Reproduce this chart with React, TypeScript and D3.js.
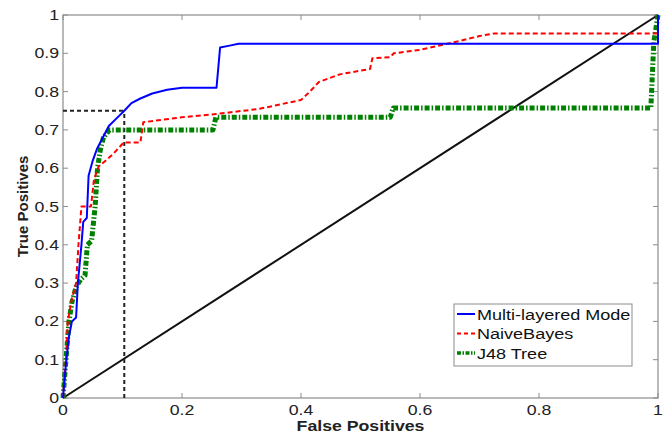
import React from 'react';
import * as d3 from 'd3';

// ROC points, [false positive rate, true positive rate]
const multiLayered: [number, number][] = [
  [0, 0], [0.005, 0.09], [0.01, 0.16], [0.015, 0.2], [0.022, 0.21], [0.025, 0.3],
  [0.031, 0.4], [0.034, 0.46], [0.04, 0.47], [0.043, 0.58], [0.05, 0.62], [0.057, 0.65],
  [0.067, 0.68], [0.077, 0.71], [0.09, 0.73], [0.103, 0.75], [0.115, 0.77], [0.13, 0.782],
  [0.15, 0.795], [0.175, 0.805], [0.2, 0.81], [0.258, 0.81], [0.264, 0.915], [0.28, 0.92],
  [0.295, 0.925], [1.0, 0.925], [1.0, 1.0]
];

const naiveBayes: [number, number][] = [
  [0, 0], [0.005, 0.1], [0.008, 0.2], [0.015, 0.26], [0.022, 0.3], [0.026, 0.4],
  [0.031, 0.5], [0.047, 0.5], [0.052, 0.57], [0.06, 0.605], [0.072, 0.62], [0.086, 0.64],
  [0.102, 0.667], [0.13, 0.667], [0.135, 0.72], [0.2, 0.733], [0.26, 0.742], [0.33, 0.755],
  [0.4, 0.778], [0.415, 0.8], [0.43, 0.825], [0.465, 0.845], [0.516, 0.859], [0.52, 0.887],
  [0.55, 0.89], [0.556, 0.9], [0.6, 0.909], [0.655, 0.928], [0.7, 0.945], [0.725, 0.952],
  [1.0, 0.952], [1.0, 1.0]
];

const j48Tree: [number, number][] = [
  [0, 0], [0.005, 0.1], [0.01, 0.2], [0.015, 0.25], [0.022, 0.29], [0.03, 0.31],
  [0.037, 0.32], [0.041, 0.4], [0.048, 0.41], [0.054, 0.5], [0.058, 0.6], [0.063, 0.65],
  [0.068, 0.68], [0.078, 0.7], [0.252, 0.7], [0.257, 0.733], [0.55, 0.733], [0.555, 0.757],
  [0.988, 0.757], [0.993, 0.93], [1.0, 1.0]
];

const chance: [number, number][] = [[0, 0], [1, 1]];
const cutoff = { fp: 0.103, tp: 0.75 };

const xTicks = [0, 0.2, 0.4, 0.6, 0.8, 1];
const yTicks = [0, 0.1, 0.2, 0.3, 0.4, 0.5, 0.6, 0.7, 0.8, 0.9, 1];
const legendLabels = ['Multi-layered Model', 'NaiveBayes', 'J48 Tree'];

const font = '"Liberation Sans", Arial, Helvetica, sans-serif';
const axisColor = '#8c8c8c';

const App = () => {
  const width = 666;
  const height = 434;
  const margin = { top: 15, right: 8, bottom: 36, left: 63 };
  const innerW = width - margin.left - margin.right;
  const innerH = height - margin.top - margin.bottom;

  const x = d3.scaleLinear().domain([0, 1]).range([0, innerW]);
  const y = d3.scaleLinear().domain([0, 1]).range([innerH, 0]);
  const line = d3.line<[number, number]>().x(d => x(d[0])).y(d => y(d[1]));

  const series = [
    { data: multiLayered, color: '#0000ff', width: 2, dash: null },
    { data: naiveBayes, color: '#ff0000', width: 2, dash: '5,3' },
    { data: j48Tree, color: '#008000', width: 5, dash: '5,2,1.5,2' }
  ];

  const stretch = 1.18;
  const tick = 5;

  return (
    <svg width={width} height={height} style={{ position: 'absolute', left: 0, top: 0, display: 'block', background: '#fff' }}>
      <defs>
        <clipPath id="legendClip">
          <rect x={0} y={0} width={177} height={62} />
        </clipPath>
      </defs>
      <g transform={`translate(${margin.left},${margin.top})`}>
        {/* box */}
        <rect x={0} y={0} width={innerW} height={innerH} fill="none" stroke={axisColor} strokeWidth={1.2} />
        {/* ticks, inside on all four sides */}
        {xTicks.map(t => (
          <g key={'xt' + t}>
            <line x1={x(t)} x2={x(t)} y1={innerH} y2={innerH - tick} stroke={axisColor} />
            <line x1={x(t)} x2={x(t)} y1={0} y2={tick} stroke={axisColor} />
            <text transform={`translate(${x(t)},${innerH + 17}) scale(${stretch},1)`} textAnchor="middle"
              fontFamily={font} fontSize={15} fill="#222">{String(t)}</text>
          </g>
        ))}
        {yTicks.map(t => (
          <g key={'yt' + t}>
            <line x1={0} x2={tick} y1={y(t)} y2={y(t)} stroke={axisColor} />
            <line x1={innerW} x2={innerW - tick} y1={y(t)} y2={y(t)} stroke={axisColor} />
            <text transform={`translate(-4,${y(t) + 5}) scale(${stretch},1)`} textAnchor="end"
              fontFamily={font} fontSize={15} fill="#222">{String(t)}</text>
          </g>
        ))}

        {/* chance diagonal */}
        <path d={line(chance) || ''} fill="none" stroke="#111" strokeWidth={2} />

        {/* operating point guides */}
        <path d={line([[0, cutoff.tp], [cutoff.fp, cutoff.tp]]) || ''} fill="none" stroke="#222" strokeWidth={2} strokeDasharray="4,3" />
        <path d={line([[cutoff.fp, 0], [cutoff.fp, cutoff.tp]]) || ''} fill="none" stroke="#222" strokeWidth={2} strokeDasharray="4,3" />

        {series.slice().reverse().map((s, i) => (
          <path key={'s' + i} d={line(s.data) || ''} fill="none" stroke={s.color} strokeWidth={s.width}
            strokeDasharray={s.dash || undefined} strokeLinejoin="round" />
        ))}

        {/* axis titles */}
        <text transform={`translate(${innerW / 2},${innerH + 33}) scale(${stretch},1)`} textAnchor="middle"
          fontFamily={font} fontSize={15} fontWeight="bold" fill="#222">False Positives</text>
        <text transform={`translate(${-margin.left + 28},${innerH / 2}) rotate(-90)`} textAnchor="middle"
          fontFamily={font} fontSize={15} fontWeight="bold" fill="#222">True Positives</text>

        {/* legend */}
        <g transform={`translate(${454 - margin.left},${304 - margin.top})`}>
          <rect x={0} y={0} width={178} height={62} fill="#fff" stroke={axisColor} />
          <g clipPath="url(#legendClip)">
            {legendLabels.map((label, i) => {
              const s = series[i];
              const ly = 10 + i * 19.5;
              return (
                <g key={label}>
                  <line x1={3} x2={21} y1={ly} y2={ly} stroke={s.color}
                    strokeWidth={s.width === 2 ? 2 : 3.5} strokeDasharray={s.dash ? (i === 1 ? '4,3' : '4,1.5,1.5,1.5') : undefined} />
                  <text transform={`translate(23,${ly + 5.5}) scale(${stretch},1)`} fontFamily={font} fontSize={15.3} fill="#111">{label}</text>
                </g>
              );
            })}
          </g>
        </g>
      </g>
    </svg>
  );
};

export default App;
